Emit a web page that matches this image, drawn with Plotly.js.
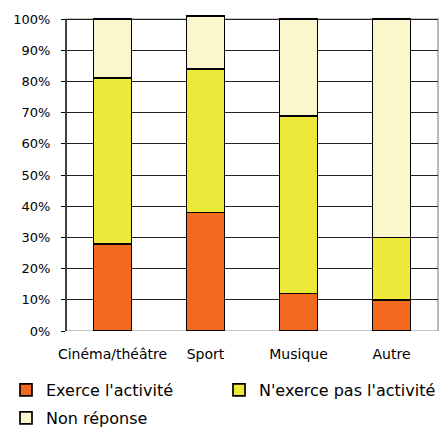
<!DOCTYPE html>
<html>
<head>
<meta charset="utf-8">
<script src="https://cdn.plot.ly/plotly-3.0.1.min.js"></script>
<style>html,body{margin:0;padding:0;background:#fff;}</style>
</head>
<body>
<div id="chart" style="width:446px;height:427px;"></div>
<script>
const categories = ["Cinéma/théâtre", "Sport", "Musique", "Autre"];
const exerce = [28, 38, 12, 10];
const nExercePas = [53, 46, 57, 20];
const nonReponse = [19, 17, 31, 70];
const seriesNames = ["Exerce l'activité", "N'exerce pas l'activité", "Non réponse"];
const yTickVals = [0, 10, 20, 30, 40, 50, 60, 70, 80, 90, 100];
const yTickText = ["0%", "10%", "20%", "30%", "40%", "50%", "60%", "70%", "80%", "90%", "100%"];

const FONT = "DejaVu Sans, sans-serif";
const colors = ["#F2691F", "#EDE93A", "#FAF7CC"];
const mk = (vals, i, legend) => ({
  type: "bar", x: categories, y: vals, name: seriesNames[i], legend: legend,
  marker: {color: colors[i], line: {color: "#000", width: 1.7}},
  hoverinfo: "skip"
});
const data = [
  mk(exerce, 0, "legend"),
  mk(nExercePas, 1, "legend3"),
  mk(nonReponse, 2, "legend2")
];
const legendBase = (xpx, ypx) => ({
  orientation: "h", xref: "container", yref: "container",
  x: xpx/446, xanchor: "left", y: (427-ypx)/427, yanchor: "middle",
  font: {size: 16, family: FONT, color: "#000"}, bgcolor: "rgba(0,0,0,0)"
});
const layout = {
  width: 446, height: 427,
  margin: {l: 66, r: 8, t: 15, b: 96},
  barmode: "stack", bargap: 0.59,
  paper_bgcolor: "#fff", plot_bgcolor: "#fff",
  font: {family: FONT, color: "#000", size: 13},
  showlegend: true,
  xaxis: {
    showgrid: false, showline: false, zeroline: false, ticks: "",
    tickfont: {size: 14, family: FONT, color: "#000"},
    ticklabelstandoff: 13
  },
  yaxis: {
    range: [0, 101.3], tickvals: yTickVals, ticktext: yTickText,
    ticks: "outside", ticklen: 4, tickcolor: "#000", tickwidth: 1,
    showgrid: true, gridcolor: "#222", gridwidth: 1,
    showline: false, zeroline: false,
    tickfont: {size: 13, family: FONT, color: "#000"},
    ticklabelstandoff: 8
  },
  shapes: [
    {type: "rect", xref: "paper", yref: "y", x0: 0, x1: 1, y0: 0, y1: 100,
     line: {color: "#8c8c8c", width: 1.2}, fillcolor: "rgba(0,0,0,0)", layer: "between"},
    {type: "line", xref: "paper", yref: "y", x0: 0, x1: 0, y0: 0, y1: 100,
     line: {color: "#000", width: 1.3}, layer: "between"}
  ],
  legend: legendBase(6, 390),
  legend3: legendBase(219, 390),
  legend2: legendBase(6, 418)
};
Plotly.newPlot("chart", data, layout, {displayModeBar: false, staticPlot: true});
</script>
</body>
</html>
